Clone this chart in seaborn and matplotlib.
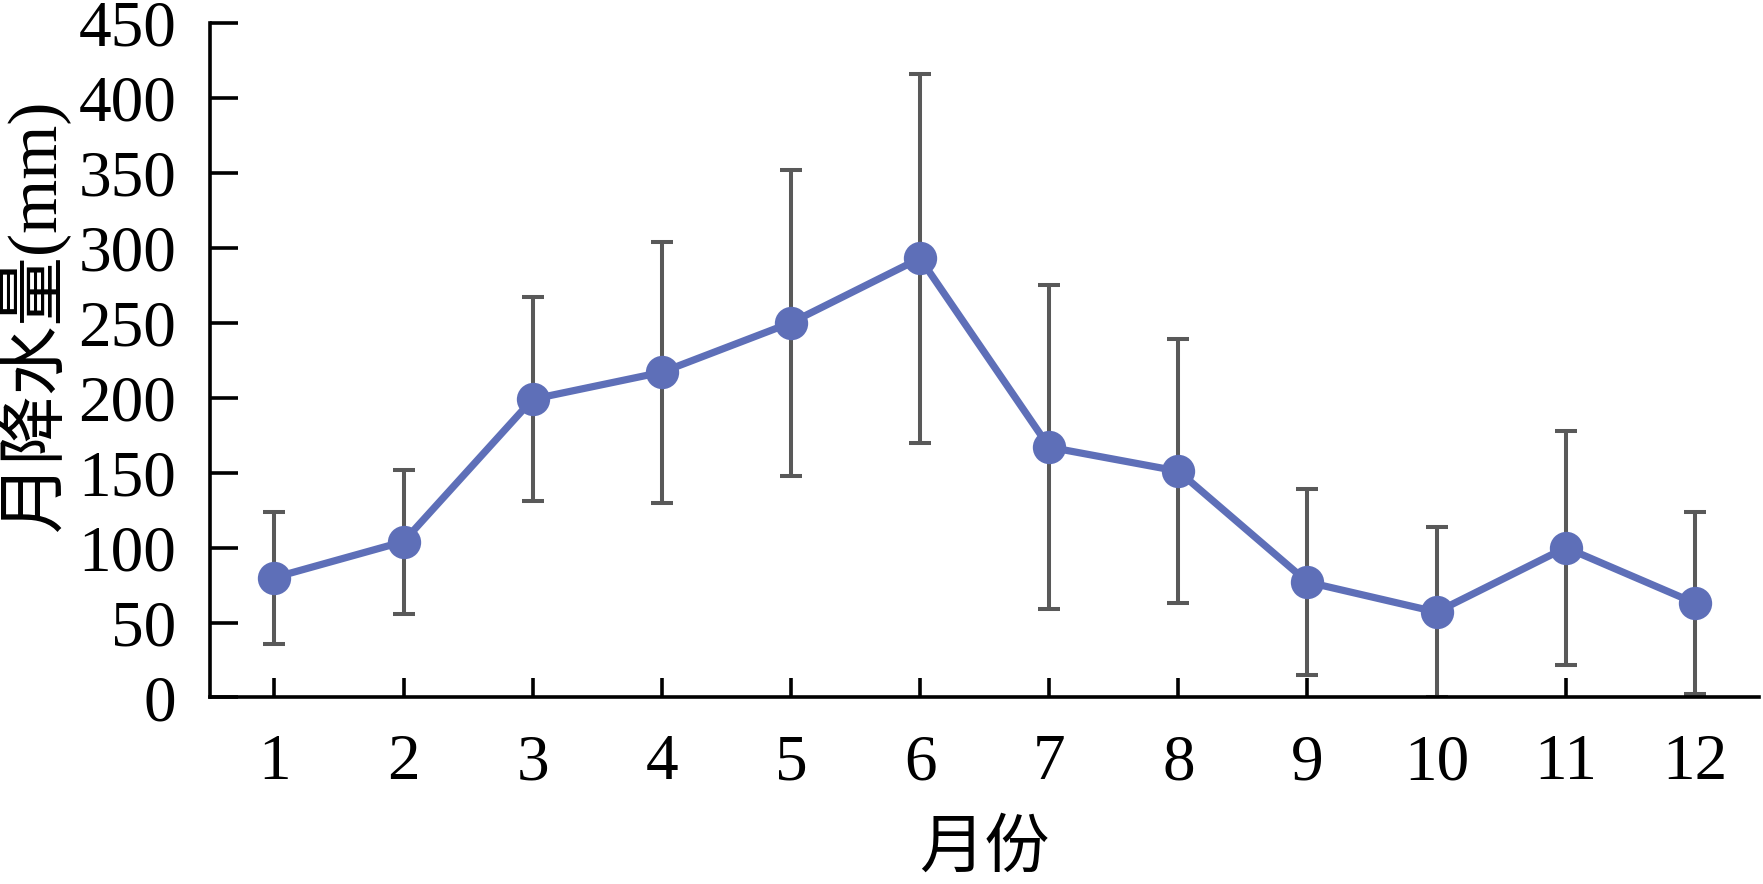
import matplotlib
matplotlib.use("Agg")
import matplotlib.pyplot as plt
import seaborn as sns
import pandas as pd

# monthly precipitation, mean and std
months = [1, 2, 3, 4, 5, 6, 7, 8, 9, 10, 11, 12]
precip = [80, 104, 199, 217, 250, 293, 167, 151, 77, 57, 100, 63]
precip_sd = [44, 48, 68, 87, 102, 123, 108, 88, 62, 57, 78, 61]
yticks = [0, 50, 100, 150, 200, 250, 300, 350, 400, 450]

df = pd.DataFrame({"month": months, "precip": precip, "sd": precip_sd})

sns.set_theme(style="ticks")
plt.rcParams["font.family"] = ["Liberation Serif", "Noto Sans CJK SC"]
plt.rcParams["text.color"] = "black"
plt.rcParams["axes.labelcolor"] = "black"

fig, ax = plt.subplots(figsize=(17.63, 8.84), dpi=100)
fig.subplots_adjust(left=0.119, right=0.998, bottom=0.211, top=0.974)

line_color = "#5E6FB8"
err_color = "#595959"

# error bars behind the line
ax.errorbar(df["month"], df["precip"], yerr=df["sd"], fmt="none",
            ecolor=err_color, elinewidth=2.9, capsize=8, capthick=2.9, zorder=1)

sns.lineplot(data=df, x="month", y="precip", ax=ax, color=line_color,
             linewidth=5.2, marker="o", markersize=24, markeredgewidth=0,
             zorder=3)

ax.set_xlim(0.5, 12.5)
ax.set_ylim(0, 450)
ax.set_xticks(months)
ax.set_xticklabels([str(m) for m in months])
ax.set_yticks(yticks)

ax.tick_params(axis="y", direction="in", length=20, width=2.6, labelsize=47, pad=24, colors="black")
ax.tick_params(axis="x", direction="in", length=14, width=2.6, labelsize=47, pad=26, colors="black")

for side in ["top", "right"]:
    ax.spines[side].set_visible(False)
for side in ["left", "bottom"]:
    ax.spines[side].set_linewidth(2.6)
    ax.spines[side].set_color("black")

ax.set_xlabel("月份", fontsize=47, labelpad=20)
ax.set_ylabel("月降水量(mm)", fontsize=50, labelpad=6)
ax.yaxis.label.set_y(0.567)

fig.savefig("out.png", dpi=100, facecolor="white")
